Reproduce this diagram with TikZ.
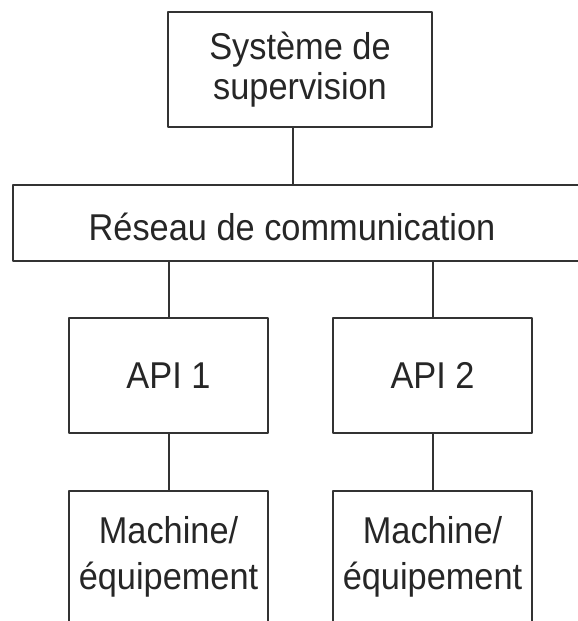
\documentclass[tikz,border=0pt]{standalone}
\usepackage{fontspec}
\setmainfont{Liberation Sans}[FakeStretch=0.92]
\begin{document}
\begin{tikzpicture}[x=0.75pt,y=-0.75pt, line width=1.5pt, line join=round,
	font=\fontsize{28pt}{30pt}\selectfont,
	bloc/.style={draw=black!80, text=black!85, align=center, minimum width=149.25pt, minimum height=86.25pt, inner sep=0pt}]
	\useasboundingbox (0,0) rectangle (578,621);
	\clip (0,0) rectangle (578,621);
	\node[bloc, minimum width=198pt] (sup) at (300,69.5) {Système de\\supervision};
	\node[bloc, minimum width=455.25pt, minimum height=57pt] (net) at (316.5,223) {};
	\node[text=black!85] (nettext) at (292,227) {Réseau de communication};
	\draw[black!80] ([xshift=-5.25pt]sup.south) -- ([xshift=-5.25pt]sup.south |- net.north);
	\foreach \n/\x in {1/168.5,2/432.5}{
		\node[bloc] (api\n) at (\x,375.5) {API \n};
		\node[bloc, minimum height=99pt, font=\fontsize{28pt}{35pt}\selectfont] (mach\n) at (\x,557) {Machine/\\équipement};
		\draw[black!80] (net.south -| api\n) -- (api\n);
		\draw[black!80] (api\n) -- (mach\n);
	}
\end{tikzpicture}
\end{document}
